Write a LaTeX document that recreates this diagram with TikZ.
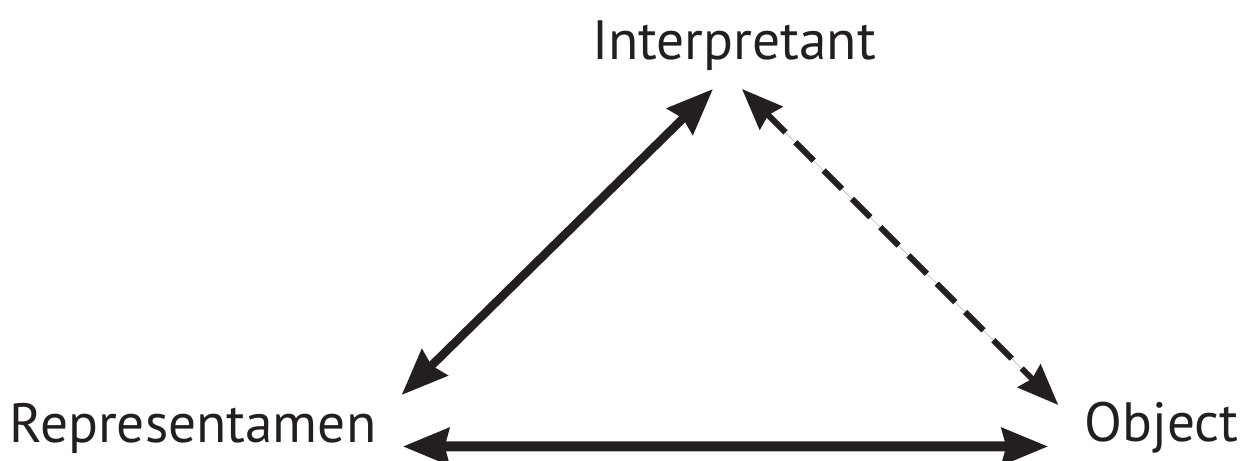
\documentclass[tikz,border=0pt]{standalone}
\usepackage{fontspec}
\setmainfont{PT Sans}
\usepackage{xcolor}
\usepackage{tikz}
\usetikzlibrary{arrows.meta,calc}
\definecolor{ink}{HTML}{231F20}

\begin{document}
\begin{tikzpicture}[
  term/.style={font=\fontsize{31.5}{38}\selectfont, text=ink, inner sep=0pt, anchor=base},
  arr/.style={{Stealth[length=0.92cm, width=0.72cm, inset=0.08cm]}-{Stealth[length=0.92cm, width=0.72cm, inset=0.08cm]}, line width=0.2cm, draw=ink, fill=ink},
  darr/.style={{Stealth[length=0.82cm, width=0.64cm, inset=0.08cm]}-{Stealth[length=0.82cm, width=0.64cm, inset=0.08cm]}, line width=0.12cm, draw=ink, fill=ink, dash pattern=on 0.52cm off 0.28cm},
]
\useasboundingbox (0,0) rectangle (24.9,9.22);
\node[term] (int) at (14.68,8.02) {Interpretant};
\node[term] (rep) at (3.86,0.36) {Representamen};
\node[term] (obj) at (23.23,0.38) {Object};
\draw[arr, line width=0.17cm] ([shift={(0.5,0.96)}]rep.base east) -- ([shift={(-0.42,-0.58)}]int.base);
\draw[darr] ([shift={(0.16,-0.58)}]int.base) -- ([shift={(-0.52,0.74)}]obj.base west);
\draw[arr] ([shift={(0.52,-0.07)}]rep.base east) -- ([shift={(-0.72,-0.09)}]obj.base west);
\end{tikzpicture}
\end{document}
